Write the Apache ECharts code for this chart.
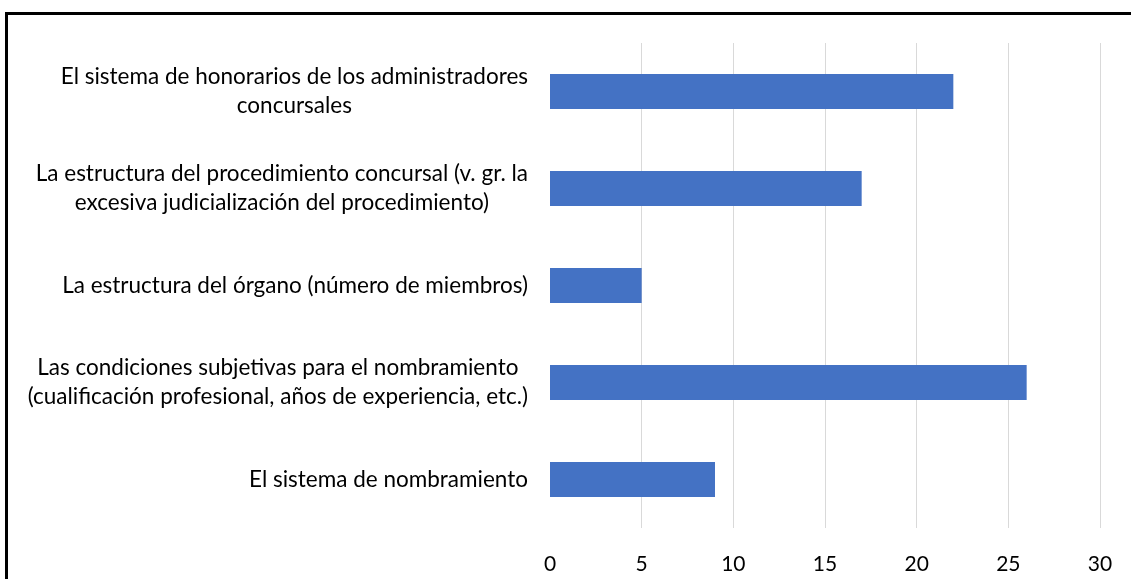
<!DOCTYPE html>
<html>
<head>
<meta charset="utf-8">
<script src="https://cdn.jsdelivr.net/npm/echarts@6/dist/echarts.min.js"></script>
<style>
	html, body { margin: 0; padding: 0; background: #fff; }
	#chart { width: 1131px; height: 579px; }
</style>
</head>
<body>
<div id="chart"></div>
<script>
// categories, bottom to top as the axis draws them
const categories = [
	'El sistema de nombramiento',
	'Las condiciones subjetivas para el nombramiento\n(cualificación profesional, años de experiencia, etc.)',
	'La estructura del órgano (número de miembros)',
	'La estructura del procedimiento concursal (v. gr. la\nexcesiva judicialización del procedimiento)',
	'El sistema de honorarios de los administradores\nconcursales',
]
const values = [9, 26, 5, 17, 22]
const xTicks = [0, 5, 10, 15, 20, 25, 30]

const font = 'Lato'
const chart = echarts.init(document.getElementById('chart'))

// first grid line (at 0) is hidden, like the original
const gridColors = xTicks.map((t, i) => (i === 0 ? 'rgba(0,0,0,0)' : '#d9d9d9'))

const options = {
	animation: false,
	grid: {
		left: 550,
		right: 31,
		top: 43,
		bottom: 51,
		containLabel: false,
	},
	xAxis: {
		type: 'value',
		min: xTicks[0],
		max: xTicks[xTicks.length - 1],
		interval: 5,
		axisLine: { show: false },
		axisTick: { show: false },
		splitLine: {
			show: true,
			lineStyle: { color: gridColors, width: 1 },
		},
		axisLabel: {
			color: '#000',
			fontFamily: font,
			fontSize: 21,
			margin: 26,
		},
	},
	yAxis: {
		type: 'category',
		data: categories,
		axisLine: { show: false },
		axisTick: { show: false },
		axisLabel: {
			margin: 22,
			align: 'right',
			// each line centred inside the label block
			formatter: v => v.split('\n').map(l => '{c|' + l + '}').join('\n'),
			rich: {
				c: {
					align: 'center',
					color: '#000',
					fontFamily: font,
					fontSize: 22.5,
					lineHeight: 29,
				},
			},
		},
	},
	series: [
		{
			type: 'bar',
			data: values,
			barWidth: 35,
			itemStyle: { color: '#4472C4' },
		},
	],
	graphic: [
		{
			type: 'rect',
			shape: { x: 6.5, y: 13.5, width: 1300, height: 700 },
			style: { fill: null, stroke: '#000', lineWidth: 3 },
			z: 100,
		},
	],
}
chart.setOption(options)
</script>
</body>
</html>
